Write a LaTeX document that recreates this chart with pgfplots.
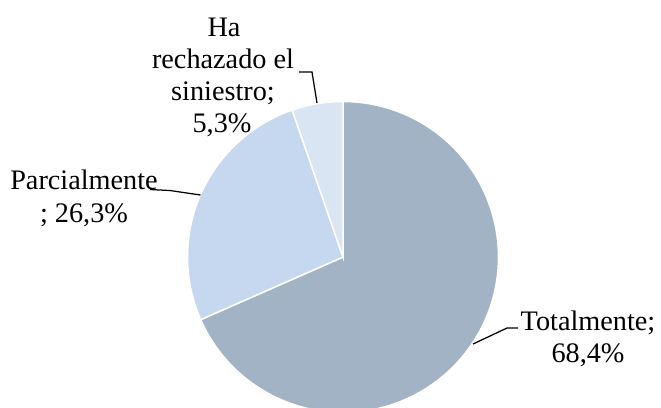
\documentclass[border=0pt]{standalone}
\usepackage{pgfplots}
\usepackage{pgfplotstable}
\pgfplotsset{compat=1.18}
\usepackage{fontspec}
\setmainfont{Liberation Serif}
\definecolor{cTot}{HTML}{A3B3C6}
\definecolor{cPar}{HTML}{C6D8EF}
\definecolor{cRec}{HTML}{DAE5F3}
\pgfplotstableread{
label share
Totalmente 68.4
Parcialmente 26.3
Rechazado 5.3
}\piedata
\tikzset{lbl/.style={font=\fontsize{11.3}{13}\selectfont, inner sep=0pt, anchor=base}}
\begin{document}
\begin{tikzpicture}
\pgfplotstablegetelem{0}{share}\of\piedata\pgfmathsetmacro\aA{3.6*\pgfplotsretval}
\pgfplotstablegetelem{1}{share}\of\piedata\pgfmathsetmacro\aB{\aA+3.6*\pgfplotsretval}
\pgfplotstablegetelem{2}{share}\of\piedata\pgfmathsetmacro\aC{\aB+3.6*\pgfplotsretval}
\begin{axis}[
  width=264.4pt, height=162.8pt, scale only axis,
  xmin=0, xmax=661, ymin=0, ymax=407, y dir=reverse,
  hide axis, clip=true,
]
\coordinate (BL) at (rel axis cs:0,0);
\coordinate (TR) at (rel axis cs:1,1);
% slices (clockwise from 12 o'clock)
\addplot[fill=cTot, draw=white, line width=0.6pt, domain=0:\aA, samples=150, variable=\t]
  ({343+155.5*sin(t)}, {257-155.5*cos(t)}) -- (axis cs:343,257) -- cycle;
\addplot[fill=cPar, draw=white, line width=0.6pt, domain=\aA:\aB, samples=60, variable=\t]
  ({343+155.5*sin(t)}, {257-155.5*cos(t)}) -- (axis cs:343,257) -- cycle;
\addplot[fill=cRec, draw=white, line width=0.6pt, domain=\aB:\aC, samples=20, variable=\t]
  ({343+155.5*sin(t)}, {257-155.5*cos(t)}) -- (axis cs:343,257) -- cycle;
% leader lines
\addplot[black, line width=0.5pt] coordinates {(317,103) (312,72) (299,72)};
\addplot[black, line width=0.5pt] coordinates {(200.5,195) (170,190.5) (150,189.5)};
\addplot[black, line width=0.5pt] coordinates {(473,344) (507,328) (518,328)};
% labels
\node[lbl] at (axis cs:224,36) {Ha};
\node[lbl] at (axis cs:223,68) {rechazado el};
\node[lbl] at (axis cs:223,100) {siniestro;};
\node[lbl] at (axis cs:222,132) {5,3\%};
\node[lbl] at (axis cs:84,189) {Parcialmente};
\node[lbl] at (axis cs:84,222) {; 26,3\%};
\node[lbl] at (axis cs:588,330) {Totalmente;};
\node[lbl] at (axis cs:588,362) {68,4\%};
\end{axis}
\pgfresetboundingbox
\path[use as bounding box] (BL) rectangle (TR);
\end{tikzpicture}
\end{document}
